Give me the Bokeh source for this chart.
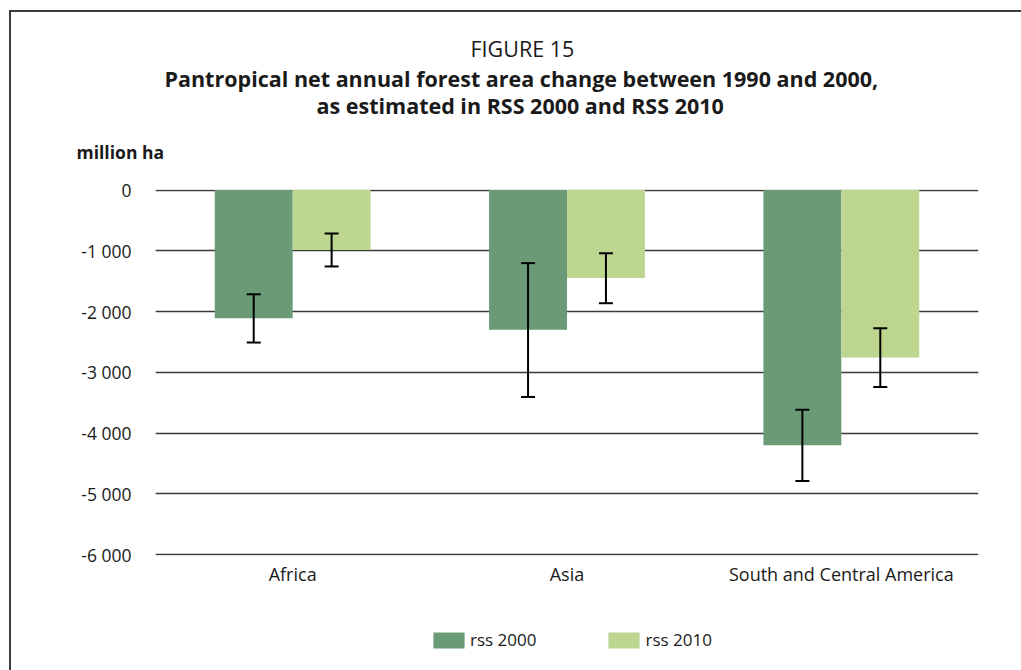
from bokeh.plotting import figure
from bokeh.layouts import column
from bokeh.models import (ColumnDataSource, FixedTicker, Whisker, TeeHead, Title,
                          Legend, LegendItem, Range1d, InlineStyleSheet)
from bokeh.transform import dodge
from bokeh.embed import file_html
from bokeh.resources import INLINE

# ---- data ----
regions = ["Africa", "Asia", "South and Central America"]
rss2000 = [-2110, -2300, -4200]
rss2000_lower = [-2510, -3405, -4790]
rss2000_upper = [-1715, -1202, -3615]
rss2010 = [-985, -1445, -2755]
rss2010_lower = [-1257, -1862, -3240]
rss2010_upper = [-716, -1040, -2273]
y_ticks = [0, -1000, -2000, -3000, -4000, -5000, -6000]
y_tick_labels = ["0", "-1 000", "-2 000", "-3 000", "-4 000", "-5 000", "-6 000"]
series_labels = ["rss 2000", "rss 2010"]

title_top = "FIGURE 15"
title_l1 = "Pantropical net annual forest area change between 1990 and 2000,"
title_l2 = "as estimated in RSS 2000 and RSS 2010"
unit_label = "million ha"

C2000 = "#6a9a76"
C2010 = "#bcd58f"
GRID = "#3a3a3a"
FONT = "Open Sans"
TXT = "#1a1a1a"
EDGE = "#3c3c3c"

src = ColumnDataSource(dict(region=regions, rss2000=rss2000, rss2010=rss2010,
                            l2000=rss2000_lower, u2000=rss2000_upper,
                            l2010=rss2010_lower, u2010=rss2010_upper))

H1 = 610
p = figure(width=1021, height=H1, x_range=regions, y_range=Range1d(-6015, 10),
           output_backend="svg", toolbar_location=None,
           min_border_left=155, min_border_right=43, min_border_top=189,
           min_border_bottom=H1 - 555)
p.stylesheets = [InlineStyleSheet(css=(
    ":host { background-image: linear-gradient(%s, %s), linear-gradient(%s, %s);"
    " background-size: 2px 100%%, 100%% 2px; background-position: 9px 10px, 9px 10px;"
    " background-repeat: no-repeat; }" % (EDGE, EDGE, EDGE, EDGE)))]
p.outline_line_color = None
p.background_fill_color = "white"
p.border_fill_color = None

off = 0.142
bw = 0.284
r1 = p.vbar(x=dodge("region", -off, range=p.x_range), top="rss2000", bottom=0, width=bw,
            source=src, fill_color=C2000, line_color=None)
r2 = p.vbar(x=dodge("region", off, range=p.x_range), top="rss2010", bottom=0, width=bw,
            source=src, fill_color=C2010, line_color=None)

for col_l, col_u, o in (("l2000", "u2000", -off), ("l2010", "u2010", off)):
    w = Whisker(source=src, base=dodge("region", o, range=p.x_range), lower=col_l, upper=col_u,
                line_color="black", line_width=2, level="overlay",
                upper_head=TeeHead(size=14, line_width=2, line_color="black"),
                lower_head=TeeHead(size=14, line_width=2, line_color="black"))
    p.add_layout(w)

# axes
p.yaxis.ticker = FixedTicker(ticks=y_ticks)
p.yaxis.major_label_overrides = {t: l for t, l in zip(y_ticks, y_tick_labels)}
p.yaxis.axis_line_color = None
p.yaxis.major_tick_line_color = None
p.yaxis.minor_tick_line_color = None
p.yaxis.major_tick_out = 0
p.yaxis.major_tick_in = 0
p.yaxis.major_label_standoff = 24
p.yaxis.major_label_text_font = FONT
p.yaxis.major_label_text_font_size = "17.5px"
p.yaxis.major_label_text_color = TXT

p.xaxis.axis_line_color = None
p.xaxis.major_tick_line_color = None
p.xaxis.minor_tick_line_color = None
p.xaxis.major_tick_out = 0
p.xaxis.major_tick_in = 0
p.xaxis.major_label_standoff = 6
p.xaxis.major_label_text_font = FONT
p.xaxis.major_label_text_font_size = "18px"
p.xaxis.major_label_text_color = TXT

p.xgrid.grid_line_color = None
p.ygrid.ticker = FixedTicker(ticks=y_ticks)
p.ygrid.grid_line_color = GRID
p.ygrid.grid_line_width = 1.5

# titles: added nearest-to-frame first
p.add_layout(Title(text=unit_label, align="left", offset=-79, standoff=52,
                   text_font=FONT, text_font_style="bold", text_font_size="17.5px",
                   text_color=TXT), "above")
p.add_layout(Title(text=title_l2, align="left", offset=161, standoff=-17,
                   text_font=FONT, text_font_style="bold", text_font_size="21.5px",
                   text_color=TXT), "above")
p.add_layout(Title(text=title_l1, align="left", offset=9, standoff=9,
                   text_font=FONT, text_font_style="bold", text_font_size="21.5px",
                   text_color=TXT), "above")
p.add_layout(Title(text=title_top, align="left", offset=315, standoff=-11.4,
                   text_font=FONT, text_font_style="normal", text_font_size="21.5px",
                   text_color=TXT), "above")

# legend strip (separate small figure below the chart; its bars fall outside its view)
H2 = 670 - H1
p2 = figure(width=1021, height=H2, x_range=p.x_range, y_range=Range1d(1, 2),
            output_backend="svg", toolbar_location=None, min_border=0)
p2.stylesheets = [InlineStyleSheet(css=(
    ":host { background-image: linear-gradient(%s, %s); background-size: 2px 100%%;"
    " background-position: 9px 0px; background-repeat: no-repeat; }" % (EDGE, EDGE)))]
p2.axis.visible = False
p2.grid.visible = False
p2.outline_line_color = None
p2.background_fill_color = None
p2.border_fill_color = None
lr1 = p2.vbar(x=dodge("region", -off, range=p.x_range), top="rss2000", bottom=0, width=bw,
              source=src, fill_color=C2000, line_color=None)
lr2 = p2.vbar(x=dodge("region", off, range=p.x_range), top="rss2010", bottom=0, width=bw,
              source=src, fill_color=C2010, line_color=None)
legend = Legend(items=[LegendItem(label=series_labels[0], renderers=[lr1], index=0),
                       LegendItem(label=series_labels[1], renderers=[lr2], index=0)],
                location=(274, 19), orientation="horizontal",
                glyph_width=39, glyph_height=20, label_standoff=2, spacing=68,
                label_text_font=FONT, label_text_font_size="17px", label_text_color=TXT,
                border_line_color=None, background_fill_alpha=0, padding=0, margin=0)
p2.add_layout(legend, "center")

layout = column(p, p2, spacing=0)
open("out.html", "w").write(file_html(layout, INLINE))
